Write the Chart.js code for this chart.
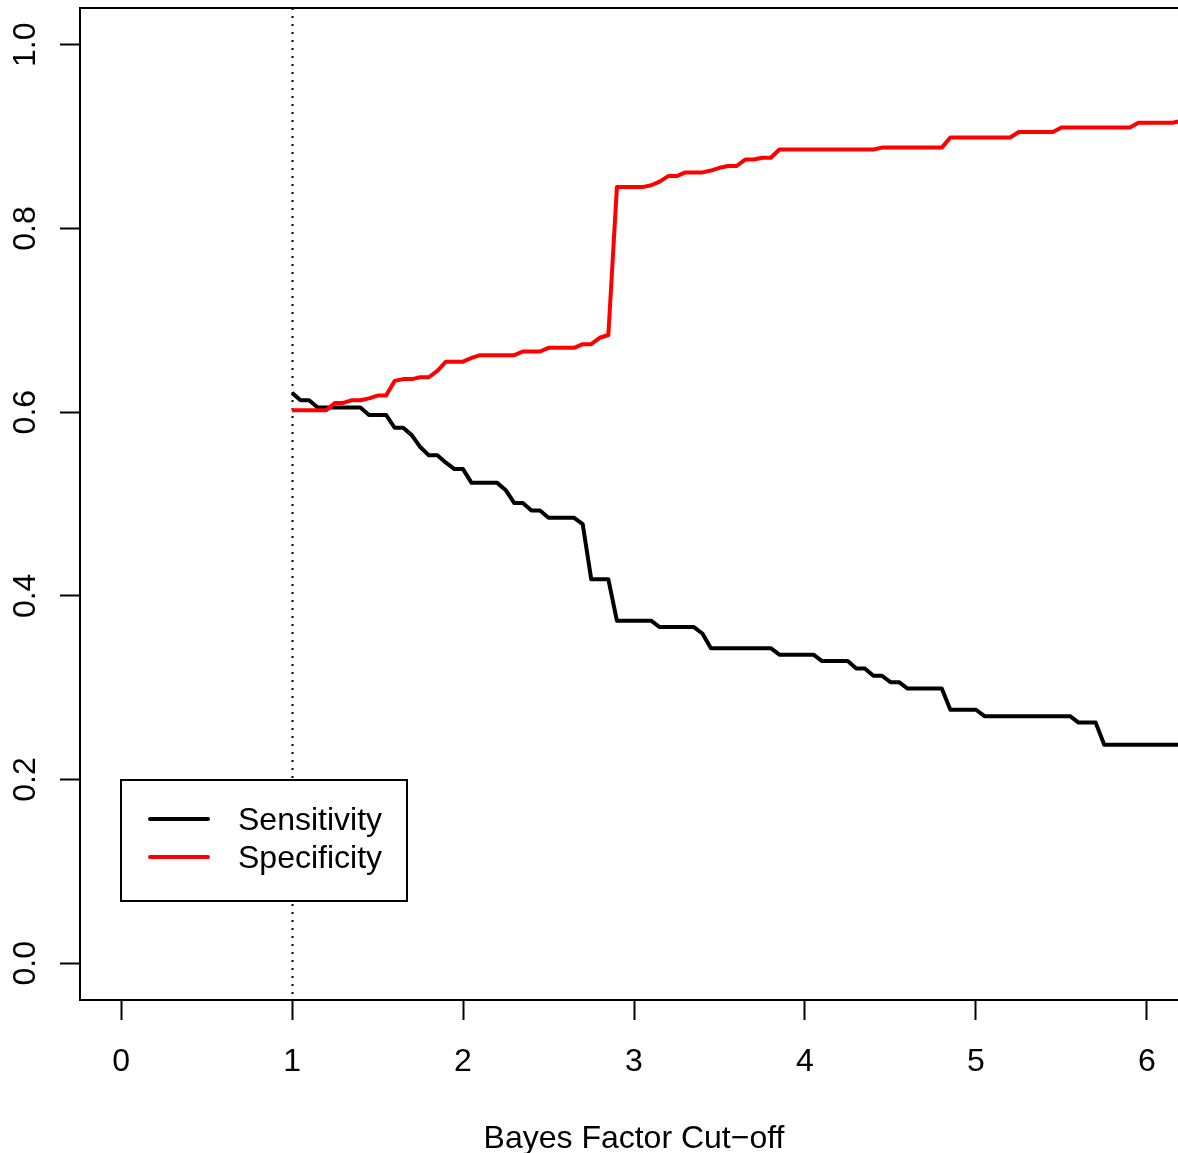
<!DOCTYPE html>
<html>
<head>
<meta charset="utf-8">
<script src="https://cdn.jsdelivr.net/npm/chart.js@4.4.0/dist/chart.umd.min.js"></script>
<style>
html, body { margin: 0; padding: 0; overflow: hidden; background: #fff; }
canvas { display: block; }
</style>
</head>
<body>
<canvas id="bfChart" width="1200" height="1153"></canvas>
<script>
// Sensitivity / specificity vs Bayes factor cut-off
var sensX = [1.00, 1.05, 1.10, 1.15, 1.40, 1.45, 1.55, 1.60, 1.65, 1.70, 1.75, 1.80, 1.85, 1.90, 1.95, 2.00,
             2.05, 2.20, 2.25, 2.30, 2.35, 2.40, 2.45, 2.50, 2.65, 2.70, 2.75, 2.85, 2.90, 3.10, 3.15, 3.35,
             3.40, 3.45, 3.80, 3.85, 4.05, 4.10, 4.25, 4.30, 4.35, 4.40, 4.45, 4.50, 4.55, 4.60, 4.80, 4.85,
             5.00, 5.05, 5.55, 5.60, 5.70, 5.75, 6.30];
var sensY = [0.621, 0.613, 0.613, 0.605, 0.605, 0.597, 0.597, 0.583, 0.583, 0.575, 0.562, 0.553, 0.553, 0.545, 0.538, 0.538,
             0.523, 0.523, 0.515, 0.501, 0.501, 0.493, 0.493, 0.485, 0.485, 0.478, 0.418, 0.418, 0.373, 0.373, 0.366, 0.366,
             0.359, 0.343, 0.343, 0.336, 0.336, 0.329, 0.329, 0.321, 0.321, 0.313, 0.313, 0.306, 0.306, 0.299, 0.299, 0.276,
             0.276, 0.269, 0.269, 0.262, 0.262, 0.238, 0.238];

var specX = [1.00, 1.20, 1.25, 1.30, 1.35, 1.40, 1.45, 1.50, 1.55, 1.60, 1.65, 1.70, 1.75, 1.80, 1.85, 1.90,
             2.00, 2.05, 2.10, 2.30, 2.35, 2.45, 2.50, 2.65, 2.70, 2.75, 2.80, 2.85, 2.90, 3.05, 3.10, 3.15,
             3.20, 3.25, 3.30, 3.40, 3.45, 3.50, 3.55, 3.60, 3.65, 3.70, 3.75, 3.80, 3.85, 4.40, 4.45, 4.80,
             4.85, 5.20, 5.25, 5.45, 5.50, 5.90, 5.95, 6.15, 6.20, 6.30];
var specY = [0.602, 0.602, 0.610, 0.610, 0.613, 0.613, 0.615, 0.618, 0.618, 0.634, 0.636, 0.636, 0.638, 0.638, 0.645, 0.655,
             0.655, 0.659, 0.662, 0.662, 0.666, 0.666, 0.670, 0.670, 0.674, 0.674, 0.681, 0.684, 0.845, 0.845, 0.847, 0.851,
             0.857, 0.857, 0.861, 0.861, 0.863, 0.866, 0.868, 0.868, 0.875, 0.875, 0.877, 0.877, 0.886, 0.886, 0.888, 0.888,
             0.899, 0.899, 0.905, 0.905, 0.910, 0.910, 0.915, 0.915, 0.917, 0.917];

var xTicks = [0, 1, 2, 3, 4, 5, 6];
var yTicks = [0, 0.2, 0.4, 0.6, 0.8, 1.0];
var yTickLabels = ['0.0', '0.2', '0.4', '0.6', '0.8', '1.0'];
var cutoffLine = 1;
var xTitle = 'Bayes Factor Cut\u2212off';
var seriesNames = ['Sensitivity', 'Specificity'];
var seriesColors = ['#000000', '#ff0000'];

var FONT = '"Liberation Sans", Arial, Helvetica, sans-serif';

function toPoints(xs, ys) {
    var pts = [];
    for (var i = 0; i < xs.length; i++) pts.push({ x: xs[i], y: ys[i] });
    return pts;
}

// R-style frame, labels, dotted cut-off and boxed legend
var rStyle = {
    id: 'rStyle',
    beforeDatasetsDraw: function (chart) {
        var ctx = chart.ctx, a = chart.chartArea;
        var px = Math.round(chart.scales.x.getPixelForValue(cutoffLine)) + 0.5;
        ctx.save();
        ctx.strokeStyle = '#000';
        ctx.lineWidth = 2;
        ctx.setLineDash([2, 6]);
        ctx.beginPath();
        ctx.moveTo(px, a.top);
        ctx.lineTo(px, a.bottom);
        ctx.stroke();
        ctx.restore();
    },
    afterDatasetsDraw: function (chart) {
        var ctx = chart.ctx, a = chart.chartArea;
        var xs = chart.scales.x, ys = chart.scales.y;
        ctx.save();
        ctx.strokeStyle = '#000';
        ctx.lineWidth = 2;
        ctx.strokeRect(a.left, a.top, a.right - a.left, a.bottom - a.top);

        ctx.fillStyle = '#000';
        ctx.font = '32px ' + FONT;
        ctx.textAlign = 'center';
        ctx.textBaseline = 'alphabetic';
        xTicks.forEach(function (v) {
            ctx.fillText(String(v), xs.getPixelForValue(v), 1071);
        });
        ctx.fillText(xTitle, (a.left + a.right) / 2, 1148);

        yTicks.forEach(function (v, i) {
            ctx.save();
            ctx.translate(35, ys.getPixelForValue(v));
            ctx.rotate(-Math.PI / 2);
            ctx.fillText(yTickLabels[i], 0, 0);
            ctx.restore();
        });

        // legend
        var lx = 121, ly = 780, lw = 286, lh = 121;
        ctx.fillStyle = '#fff';
        ctx.fillRect(lx, ly, lw, lh);
        ctx.strokeRect(lx, ly, lw, lh);
        ctx.lineWidth = 4;
        ctx.lineCap = 'round';
        ctx.textAlign = 'left';
        seriesNames.forEach(function (name, i) {
            var y = 819 + i * 38;
            ctx.strokeStyle = seriesColors[i];
            ctx.beginPath();
            ctx.moveTo(150, y);
            ctx.lineTo(208, y);
            ctx.stroke();
            ctx.fillStyle = '#000';
            ctx.fillText(name, 238, y + 11);
        });
        ctx.restore();
    }
};

new Chart(document.getElementById('bfChart'), {
    type: 'line',
    data: {
        datasets: [{
            label: seriesNames[0],
            data: toPoints(sensX, sensY),
            borderColor: seriesColors[0],
            borderWidth: 4,
            pointRadius: 0,
            tension: 0,
            borderJoinStyle: 'round',
            order: 1
        }, {
            label: seriesNames[1],
            data: toPoints(specX, specY),
            borderColor: seriesColors[1],
            borderWidth: 4,
            pointRadius: 0,
            tension: 0,
            borderJoinStyle: 'round',
            order: 0
        }]
    },
    options: {
        responsive: false,
        animation: false,
        devicePixelRatio: 1,
        layout: { padding: { top: 8, right: 12, left: 0, bottom: 0 } },
        plugins: { legend: { display: false }, tooltip: { enabled: false } },
        scales: {
            x: {
                type: 'linear',
                min: -0.24,
                max: 6.24,
                afterBuildTicks: function (s) { s.ticks = xTicks.map(function (v) { return { value: v }; }); },
                afterFit: function (s) { s.height = 153; },
                ticks: { display: false },
                border: { display: false },
                grid: { drawOnChartArea: false, drawTicks: true, tickLength: 20, tickWidth: 2, tickColor: '#000' }
            },
            y: {
                type: 'linear',
                min: -0.04,
                max: 1.04,
                afterBuildTicks: function (s) { s.ticks = yTicks.map(function (v) { return { value: v }; }); },
                afterFit: function (s) { s.width = 80; },
                ticks: { display: false },
                border: { display: false },
                grid: { drawOnChartArea: false, drawTicks: true, tickLength: 20, tickWidth: 2, tickColor: '#000' }
            }
        }
    },
    plugins: [rStyle]
});
</script>
</body>
</html>
